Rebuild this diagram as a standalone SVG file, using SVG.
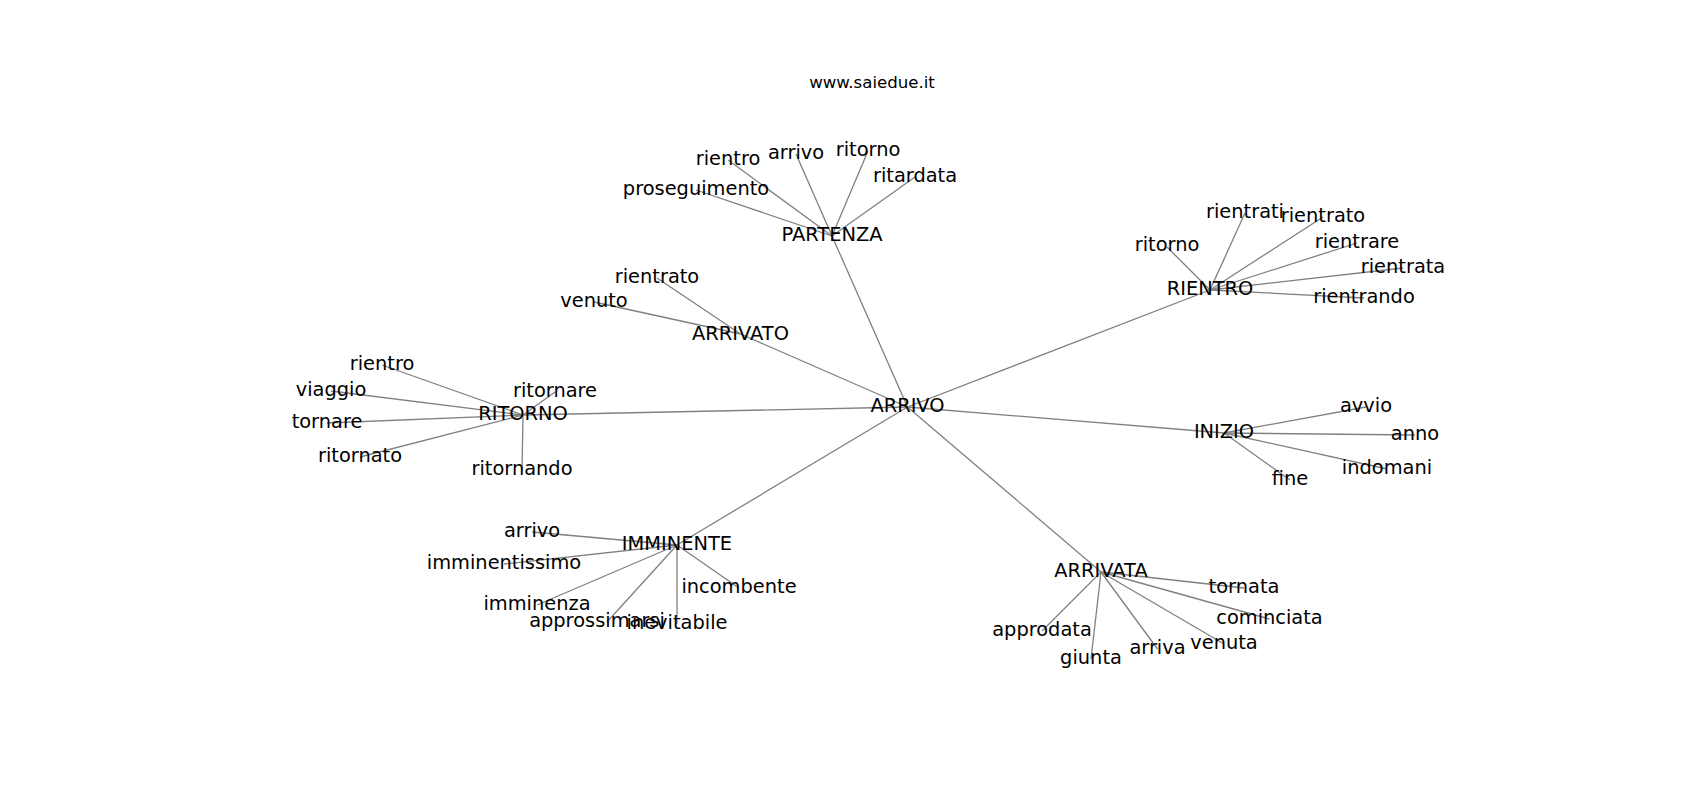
<svg xmlns="http://www.w3.org/2000/svg" width="1700" height="800" viewBox="0 0 1700 800">
<style>
.e{stroke:#808080;stroke-width:1.3;fill:none}
text{font-family:"DejaVu Sans","Liberation Sans",sans-serif;font-size:19.4px;fill:#000;text-anchor:middle}
.t{font-size:16.6px}
</style>
<rect width="1700" height="800" fill="#fff"/>
<text class="t" x="872" y="87.5">www.saiedue.it</text>
<g id="edges">
<line class="e" x1="907.5" y1="407" x2="832" y2="236"/>
<line class="e" x1="907.5" y1="407" x2="740.5" y2="334"/>
<line class="e" x1="907.5" y1="407" x2="523" y2="415"/>
<line class="e" x1="907.5" y1="407" x2="677" y2="545"/>
<line class="e" x1="907.5" y1="407" x2="1101" y2="572"/>
<line class="e" x1="907.5" y1="407" x2="1224" y2="433"/>
<line class="e" x1="907.5" y1="407" x2="1210" y2="290"/>
<line class="e" x1="832" y1="236" x2="728" y2="160"/>
<line class="e" x1="832" y1="236" x2="796" y2="154"/>
<line class="e" x1="832" y1="236" x2="868" y2="151"/>
<line class="e" x1="832" y1="236" x2="915" y2="177"/>
<line class="e" x1="832" y1="236" x2="696" y2="190"/>
<line class="e" x1="740.5" y1="334" x2="657" y2="278"/>
<line class="e" x1="740.5" y1="334" x2="594" y2="302"/>
<line class="e" x1="1210" y1="290" x2="1245" y2="213"/>
<line class="e" x1="1210" y1="290" x2="1323" y2="217"/>
<line class="e" x1="1210" y1="290" x2="1167" y2="247"/>
<line class="e" x1="1210" y1="290" x2="1357" y2="243"/>
<line class="e" x1="1210" y1="290" x2="1403" y2="268"/>
<line class="e" x1="1210" y1="290" x2="1364" y2="298"/>
<line class="e" x1="523" y1="415" x2="382" y2="365"/>
<line class="e" x1="523" y1="415" x2="331" y2="391"/>
<line class="e" x1="523" y1="415" x2="327" y2="423"/>
<line class="e" x1="523" y1="415" x2="360" y2="457"/>
<line class="e" x1="523" y1="415" x2="555" y2="392"/>
<line class="e" x1="523" y1="415" x2="522" y2="470"/>
<line class="e" x1="677" y1="545" x2="532" y2="532"/>
<line class="e" x1="677" y1="545" x2="504" y2="564"/>
<line class="e" x1="677" y1="545" x2="739" y2="588"/>
<line class="e" x1="677" y1="545" x2="537" y2="605"/>
<line class="e" x1="677" y1="545" x2="607" y2="622"/>
<line class="e" x1="677" y1="545" x2="677" y2="624"/>
<line class="e" x1="1101" y1="572" x2="1244" y2="588"/>
<line class="e" x1="1101" y1="572" x2="1269.5" y2="619"/>
<line class="e" x1="1101" y1="572" x2="1042" y2="631"/>
<line class="e" x1="1101" y1="572" x2="1224" y2="644"/>
<line class="e" x1="1101" y1="572" x2="1157.5" y2="649"/>
<line class="e" x1="1101" y1="572" x2="1091" y2="659"/>
<line class="e" x1="1224" y1="433" x2="1366" y2="407"/>
<line class="e" x1="1224" y1="433" x2="1415" y2="435"/>
<line class="e" x1="1224" y1="433" x2="1387" y2="469"/>
<line class="e" x1="1224" y1="433" x2="1290" y2="480"/>
</g>
<g id="n-arrivo"><text x="907.5" y="412">ARRIVO</text></g>
<g id="n-partenza"><text x="832" y="241">PARTENZA</text></g>
<g id="n-partenza-rientro"><text x="728" y="165">rientro</text></g>
<g id="n-partenza-arrivo"><text x="796" y="159">arrivo</text></g>
<g id="n-partenza-ritorno"><text x="868" y="156">ritorno</text></g>
<g id="n-ritardata"><text x="915" y="182">ritardata</text></g>
<g id="n-proseguimento"><text x="696" y="195">proseguimento</text></g>
<g id="n-arrivato"><text x="740.5" y="340">ARRIVATO</text></g>
<g id="n-arrivato-rientrato"><text x="657" y="283">rientrato</text></g>
<g id="n-venuto"><text x="594" y="307">venuto</text></g>
<g id="n-rientro"><text x="1210" y="295">RIENTRO</text></g>
<g id="n-rientrati"><text x="1245" y="218">rientrati</text></g>
<g id="n-rientro-rientrato"><text x="1323" y="222">rientrato</text></g>
<g id="n-rientro-ritorno"><text x="1167" y="251">ritorno</text></g>
<g id="n-rientrare"><text x="1357" y="248">rientrare</text></g>
<g id="n-rientrata"><text x="1403" y="273">rientrata</text></g>
<g id="n-rientrando"><text x="1364" y="303">rientrando</text></g>
<g id="n-ritorno"><text x="523" y="420">RITORNO</text></g>
<g id="n-ritorno-rientro"><text x="382" y="370">rientro</text></g>
<g id="n-viaggio"><text x="331" y="396">viaggio</text></g>
<g id="n-tornare"><text x="327" y="428">tornare</text></g>
<g id="n-ritornato"><text x="360" y="462">ritornato</text></g>
<g id="n-ritornare"><text x="555" y="397">ritornare</text></g>
<g id="n-ritornando"><text x="522" y="475">ritornando</text></g>
<g id="n-imminente"><text x="677" y="550">IMMINENTE</text></g>
<g id="n-imminente-arrivo"><text x="532" y="537">arrivo</text></g>
<g id="n-imminentissimo"><text x="504" y="569">imminentissimo</text></g>
<g id="n-incombente"><text x="739" y="593">incombente</text></g>
<g id="n-imminenza"><text x="537" y="610">imminenza</text></g>
<g id="n-approssimarsi"><text x="597" y="627">approssimarsi</text></g>
<g id="n-inevitabile"><text x="677" y="629">inevitabile</text></g>
<g id="n-arrivata"><text x="1101" y="577">ARRIVATA</text></g>
<g id="n-tornata"><text x="1244" y="593">tornata</text></g>
<g id="n-cominciata"><text x="1269.5" y="624">cominciata</text></g>
<g id="n-approdata"><text x="1042" y="636">approdata</text></g>
<g id="n-venuta"><text x="1224" y="649">venuta</text></g>
<g id="n-arriva"><text x="1157.5" y="654">arriva</text></g>
<g id="n-giunta"><text x="1091" y="664">giunta</text></g>
<g id="n-inizio"><text x="1224" y="438">INIZIO</text></g>
<g id="n-avvio"><text x="1366" y="412">avvio</text></g>
<g id="n-anno"><text x="1415" y="440">anno</text></g>
<g id="n-indomani"><text x="1387" y="474">indomani</text></g>
<g id="n-fine"><text x="1290" y="485">fine</text></g>
</svg>
